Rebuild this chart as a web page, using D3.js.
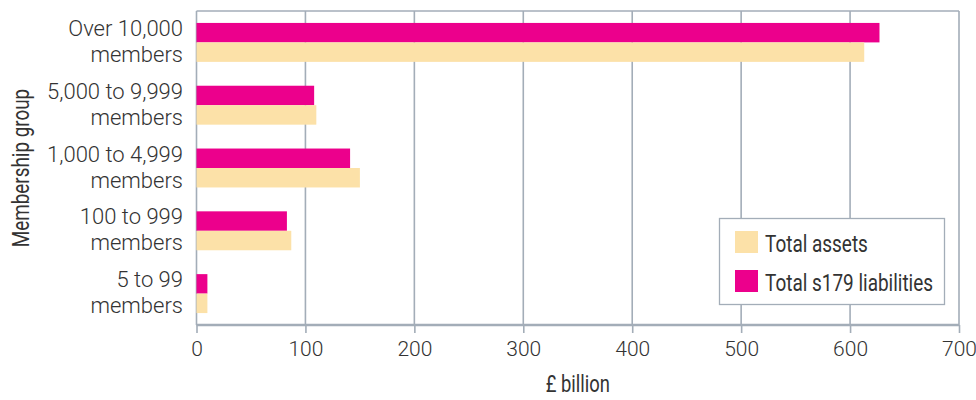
<!DOCTYPE html>
<html>
<head>
<meta charset="utf-8">
<script src="https://cdn.jsdelivr.net/npm/d3@7/dist/d3.min.js"></script>
<style>
  html, body { margin: 0; padding: 0; background: #fff; }
  svg { display: block; }
  text { font-family: Roboto, "Liberation Sans", sans-serif; fill: #333; }
</style>
</head>
<body>
<svg id="chart" width="976" height="400"></svg>
<script>
// Membership groups, top to bottom (each label on two lines)
const categories = [
  ["Over 10,000", "members"],
  ["5,000 to 9,999", "members"],
  ["1,000 to 4,999", "members"],
  ["100 to 999", "members"],
  ["5 to 99", "members"]
];
// £ billion
const liabilities = [627, 108, 141, 83, 10];
const assets = [613, 110, 150, 87, 10];
const xTicks = [0, 100, 200, 300, 400, 500, 600, 700];
const seriesNames = ["Total assets", "Total s179 liabilities"];
const seriesColors = ["#fce1a8", "#ec008c"];

const svg = d3.select("#chart");
const plotLeft = 196.5, plotRight = 959, plotTop = 11, plotBottom = 325;
const gridColor = "#a3adb8";
const narrowFont = "'Liberation Sans', Arial, sans-serif";

const x = d3.scaleLinear().domain([0, 700]).range([plotLeft, plotRight]);
const y = d3.scaleBand()
  .domain(categories.map((d, i) => i))
  .range([plotTop, plotBottom])
  .paddingInner(0.38)
  .paddingOuter(0.19);
const sub = d3.scaleBand().domain(["liab", "assets"]).range([0, y.bandwidth()]);

// ticks below the axis with their labels
svg.append("g")
  .attr("transform", `translate(0,${plotBottom})`)
  .call(d3.axisBottom(x).tickValues(xTicks).tickSize(8).tickFormat(d3.format("d")).tickPadding(8))
  .call(g => g.select(".domain").remove())
  .call(g => g.selectAll(".tick line").attr("stroke", gridColor).attr("stroke-width", 1.6))
  .call(g => g.selectAll(".tick text")
    .attr("font-size", 21).attr("font-weight", 300).attr("fill", "#333")
    .attr("font-family", "Roboto, 'Liberation Sans', sans-serif"));

// vertical gridlines
svg.append("g").selectAll("line")
  .data(xTicks)
  .join("line")
  .attr("x1", d => x(d)).attr("x2", d => x(d))
  .attr("y1", plotTop).attr("y2", plotBottom)
  .attr("stroke", gridColor).attr("stroke-width", 1.6);

// top border
svg.append("line")
  .attr("x1", plotLeft).attr("x2", plotRight).attr("y1", plotTop).attr("y2", plotTop)
  .attr("stroke", gridColor).attr("stroke-width", 1.6);

// bars
const groups = svg.append("g").selectAll("g")
  .data(categories.map((c, i) => ({ i, liab: liabilities[i], assets: assets[i] })))
  .join("g")
  .attr("transform", d => `translate(0,${y(d.i)})`);

groups.append("rect")
  .attr("x", x(0)).attr("y", sub("liab"))
  .attr("width", d => x(d.liab) - x(0)).attr("height", sub.bandwidth())
  .attr("fill", seriesColors[1]);
groups.append("rect")
  .attr("x", x(0)).attr("y", sub("assets"))
  .attr("width", d => x(d.assets) - x(0)).attr("height", sub.bandwidth())
  .attr("fill", seriesColors[0]);

// bottom axis line
svg.append("line")
  .attr("x1", plotLeft).attr("x2", plotRight).attr("y1", plotBottom).attr("y2", plotBottom)
  .attr("stroke", gridColor).attr("stroke-width", 2.5);

// category labels, two lines each
const catLabels = svg.append("g").selectAll("text")
  .data(categories.map((c, i) => ({ c, i })))
  .join("text")
  .attr("text-anchor", "end")
  .attr("font-size", 22).attr("font-weight", 300)
  .attr("x", 183);
catLabels.selectAll("tspan")
  .data(d => d.c.map((t, k) => ({ t, k, cy: y(d.i) + y.bandwidth() / 2 })))
  .join("tspan")
  .attr("x", 183)
  .attr("y", d => d.cy + (d.k === 0 ? -6.5 : 19.5))
  .text(d => d.t);

// axis titles
svg.append("text")
  .attr("transform", `translate(${(plotLeft + plotRight) / 2},392) scale(0.8,1)`)
  .attr("text-anchor", "middle").attr("font-size", 23)
  .attr("font-family", narrowFont).attr("fill", "#222")
  .text("£ billion");
svg.append("text")
  .attr("transform", `translate(29,${(plotTop + plotBottom) / 2}) rotate(-90) scale(0.82,1)`)
  .attr("text-anchor", "middle").attr("font-size", 23)
  .attr("font-family", narrowFont).attr("fill", "#222")
  .text("Membership group");

// legend
const lg = svg.append("g");
lg.append("rect")
  .attr("x", 719.5).attr("y", 218.5).attr("width", 225).attr("height", 86)
  .attr("fill", "#fff").attr("stroke", gridColor).attr("stroke-width", 1.3);
const items = lg.selectAll("g.item")
  .data(seriesNames.map((n, i) => ({ n, c: seriesColors[i], i })))
  .join("g").attr("class", "item")
  .attr("transform", d => `translate(735,${231 + d.i * 39})`);
items.append("rect").attr("width", 23).attr("height", 22).attr("fill", d => d.c);
items.append("text")
  .attr("transform", "translate(30,21) scale(0.79,1)")
  .attr("font-family", narrowFont)
  .attr("font-size", 24)
  .attr("fill", "#222")
  .text(d => d.n);
</script>
</body>
</html>
